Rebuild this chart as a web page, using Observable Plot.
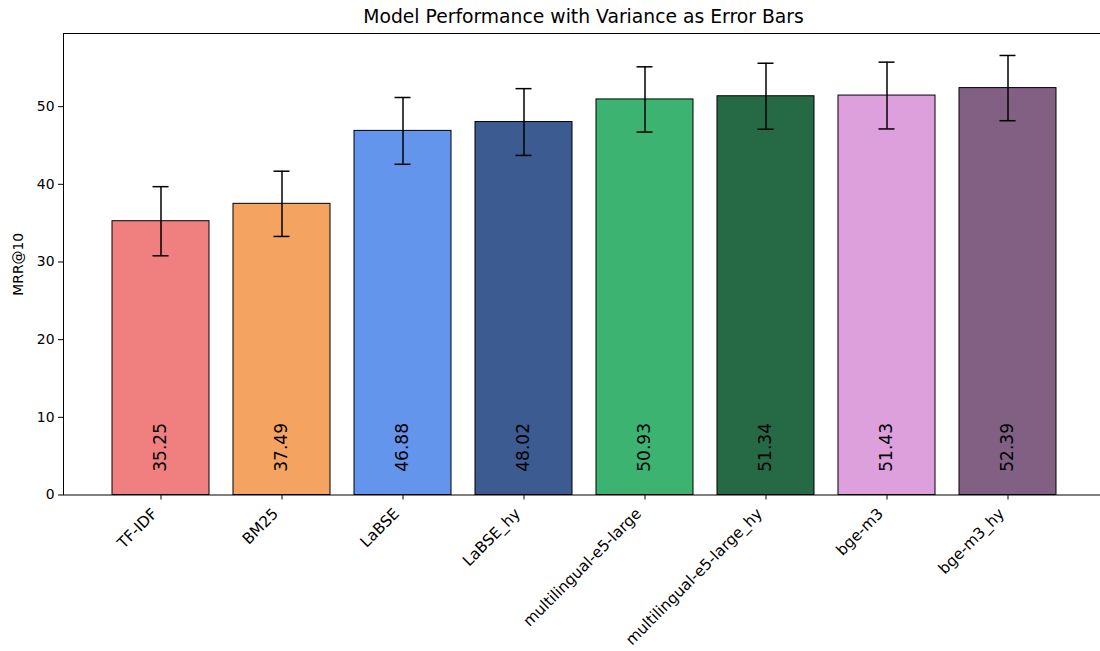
<!DOCTYPE html>
<html>
<head>
<meta charset="utf-8">
<script src="https://cdn.jsdelivr.net/npm/d3@7"></script>
<script src="https://cdn.jsdelivr.net/npm/@observablehq/plot@0.6"></script>
<style>
  html, body { margin: 0; padding: 0; background: #fff; overflow: hidden; width: 1100px; height: 651px; }
  #title { position: relative; height: 32px; width: 1100px; overflow: visible;
           font-family: "DejaVu Sans", sans-serif; font-size: 18.75px; color: #000; white-space: nowrap; }
  #title span { position: absolute; left: 0; width: 1167px; top: 0; text-align: center; line-height: 33px; }
  #chart svg { max-width: none !important; }
</style>
</head>
<body>
<div id="title"><span>Model Performance with Variance as Error Bars</span></div>
<div id="chart"></div>
<script>
const models = ["TF-IDF", "BM25", "LaBSE", "LaBSE_hy", "multilingual-e5-large", "multilingual-e5-large_hy", "bge-m3", "bge-m3_hy"];
const mrr = [35.25, 37.49, 46.88, 48.02, 50.93, 51.34, 51.43, 52.39];
const variance = [4.45, 4.2, 4.3, 4.3, 4.2, 4.25, 4.3, 4.2];
const colors = ["#F08080", "#F4A460", "#6495ED", "#3B5B91", "#3CB371", "#256A45", "#DDA0DD", "#826084"];
const yTicks = [0, 10, 20, 30, 40, 50];
const yLabel = "MRR@10";

const data = models.map((m, i) => ({model: m, value: mrr[i], err: variance[i], label: mrr[i].toFixed(2)}));
const yMax = d3.max(data, d => d.value + d.err) * 1.05;

const font = "DejaVu Sans, sans-serif";

const chart = Plot.plot({
  width: 1110,
  height: 619,
  marginTop: 1,
  marginBottom: 156.5,
  marginLeft: 63,
  marginRight: 6,
  style: {fontFamily: font, fontSize: "13.9px", color: "#000", background: "#fff", overflow: "visible", maxWidth: "none"},
  x: {domain: models, range: [98, 1069], paddingInner: 0.2, paddingOuter: 0.1, axis: null},
  y: {domain: [0, yMax], axis: null},
  color: {domain: models, range: colors},
  marks: [
    Plot.barY(data, {x: "model", y: "value", fill: "model", stroke: "#000", strokeWidth: 1}),
    Plot.ruleX(data, {x: "model", y1: d => d.value - d.err, y2: d => d.value + d.err, stroke: "#000", strokeWidth: 1.5}),
    Plot.tickY(data, {x: "model", y: d => d.value - d.err, stroke: "#000", strokeWidth: 1.5, inset: 40.5}),
    Plot.tickY(data, {x: "model", y: d => d.value + d.err, stroke: "#000", strokeWidth: 1.5, inset: 40.5}),
    Plot.text(data, {x: "model", y: 3, text: "label", rotate: -90, textAnchor: "start", lineAnchor: "middle",
                     fontSize: 17, fill: "#000"}),
    Plot.frame({stroke: "#000", strokeWidth: 1}),
    Plot.axisY({ticks: yTicks, tickSize: 5, tickPadding: 4, fontSize: 13.9, label: null, tickFormat: d => String(d)}),
    Plot.axisX({tickSize: 5, tickFormat: () => "", label: null}),
    Plot.text(models, {x: d => d, frameAnchor: "bottom", rotate: -45, textAnchor: "end", lineAnchor: "middle",
                       dx: -6.3, dy: 16.2, fontSize: 15.3, fill: "#000"}),
    Plot.text([yLabel], {frameAnchor: "left", dx: -45, rotate: -90, textAnchor: "middle", lineAnchor: "middle",
                         fontSize: 13.9, fill: "#000"})
  ]
});
document.getElementById("chart").appendChild(chart);
</script>
</body>
</html>
